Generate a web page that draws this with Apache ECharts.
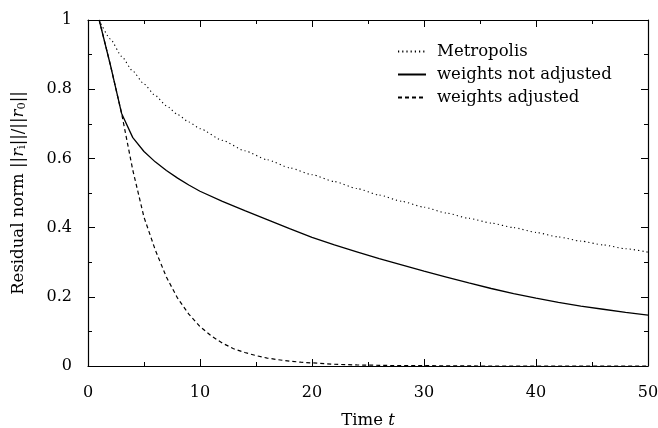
<!DOCTYPE html>
<html>
<head>
<meta charset="utf-8">
<script src="https://cdn.jsdelivr.net/npm/echarts@6/dist/echarts.min.js"></script>
<style>
html,body{margin:0;padding:0;background:#fff;}
#chart{width:658px;height:428px;}
</style>
</head>
<body>
<div id="chart"></div>
<script>
// ---- data ----
const seriesNames = ['Metropolis', 'weights not adjusted', 'weights adjusted'];

const tMetro = [1,2,3,4,5,6,7,8,9,10,12,14,16,18,20,22,24,26,28,30,32,34,36,38,40,42,44,46,48,50];
const vMetro = [1,0.945,0.895,0.852,0.815,0.782,0.752,0.727,0.705,0.686,0.652,0.622,0.596,0.573,0.553,0.533,0.513,0.494,0.476,0.459,0.442,0.427,0.413,0.4,0.386,0.373,0.361,0.35,0.339,0.329];

const tNot = [1,2,3,4,5,6,7,8,9,10,12,14,16,18,20,22,24,26,28,30,32,34,36,38,40,42,44,46,48,50];
const vNot = [1,0.87,0.73,0.66,0.62,0.59,0.565,0.543,0.523,0.505,0.476,0.449,0.423,0.397,0.372,0.35,0.33,0.31,0.292,0.274,0.257,0.24,0.224,0.209,0.196,0.184,0.173,0.164,0.155,0.147];

const tAdj = [1,2,3,4,5,6,7,8,9,10,11,12,13,14,15,16,17,18,19,20,22,24,26,28,30,35,40,45,50];
const vAdj = [1,0.87,0.73,0.566,0.43,0.336,0.257,0.196,0.15,0.114,0.087,0.066,0.05,0.039,0.03,0.023,0.018,0.014,0.011,0.009,0.005,0.003,0.002,0.001,0.001,0,0,0,0];

const xMin = 0, xMax = 50, xStep = 10;
const yMin = 0, yMax = 1, yStep = 0.2;

function pairs(ts, vs) { return ts.map((t, i) => [t, vs[i]]); }

const FONT = 'DejaVu Serif';
const axisLine = { show: true, onZero: false, lineStyle: { color: '#000', width: 1.2 } };
const tick = { show: true, inside: true, length: 7, lineStyle: { color: '#000', width: 1 } };
const minor = { show: true, splitNumber: 2, length: 4, lineStyle: { color: '#000', width: 1 } };

const chart = echarts.init(document.getElementById('chart'), null, { renderer: 'canvas' });
chart.setOption({
  animation: false,
  backgroundColor: '#fff',
  grid: { left: 88, right: 10, top: 20, bottom: 62, containLabel: false, outerBoundsMode: 'none' },
  legend: {
    orient: 'vertical',
    left: 397,
    top: 42,
    padding: 0,
    itemWidth: 28,
    itemHeight: 12,
    itemGap: 4,
    data: seriesNames,
    itemStyle: { color: 'rgba(0,0,0,0)', borderColor: 'rgba(0,0,0,0)', borderWidth: 0 },
    textStyle: { fontFamily: FONT, fontSize: 16.5, color: '#000', lineHeight: 19, padding: [0, 0, 0, 6] }
  },
  xAxis: [
    {
      type: 'value', min: xMin, max: xMax, interval: xStep, position: 'bottom',
      axisLine: axisLine, axisTick: tick, minorTick: minor,
      splitLine: { show: false },
      axisLabel: { margin: 19, fontFamily: FONT, fontSize: 16, color: '#000' },
      name: 'Time {it|t}', nameLocation: 'middle', nameGap: 46,
      nameTextStyle: { fontFamily: FONT, fontSize: 16.5, color: '#000',
        rich: { it: { fontFamily: FONT, fontStyle: 'italic', fontSize: 16.5, color: '#000' } } }
    },
    {
      type: 'value', min: xMin, max: xMax, interval: xStep, position: 'top',
      axisLine: axisLine, axisTick: tick, minorTick: minor,
      splitLine: { show: false }, axisLabel: { show: false }
    }
  ],
  yAxis: [
    {
      type: 'value', min: yMin, max: yMax, interval: yStep, position: 'left',
      axisLine: axisLine, axisTick: tick, minorTick: minor,
      splitLine: { show: false },
      axisLabel: { margin: 16, fontFamily: FONT, fontSize: 16, color: '#000' },
      name: 'Residual norm ||{it|r}{sb|i}||/||{it|r}{sb|0}||',
      nameLocation: 'middle', nameRotate: 90, nameGap: 60,
      nameTextStyle: { fontFamily: FONT, fontSize: 16.5, color: '#000',
        rich: {
          it: { fontFamily: FONT, fontStyle: 'italic', fontSize: 16.5, color: '#000' },
          sb: { fontFamily: FONT, fontSize: 11.5, color: '#000', verticalAlign: 'bottom', padding: [6, 0, 0, 0] }
        } }
    },
    {
      type: 'value', min: yMin, max: yMax, interval: yStep, position: 'right',
      axisLine: axisLine, axisTick: tick, minorTick: minor,
      splitLine: { show: false }, axisLabel: { show: false }
    }
  ],
  series: [
    {
      name: seriesNames[0], type: 'line', showSymbol: false, symbol: 'none',
      smooth: 0.2, smoothMonotone: 'x',
      data: pairs(tMetro, vMetro),
      lineStyle: { color: '#000', width: 1.1, type: [1.2, 3] },
      itemStyle: { color: '#000' }
    },
    {
      name: seriesNames[1], type: 'line', showSymbol: false, symbol: 'none',
      data: pairs(tNot, vNot),
      lineStyle: { color: '#000', width: 1.3, type: 'solid' },
      itemStyle: { color: '#000' }
    },
    {
      name: seriesNames[2], type: 'line', showSymbol: false, symbol: 'none',
      data: pairs(tAdj, vAdj),
      lineStyle: { color: '#000', width: 1.2, type: [4, 3] },
      itemStyle: { color: '#000' }
    }
  ]
});
</script>
</body>
</html>
